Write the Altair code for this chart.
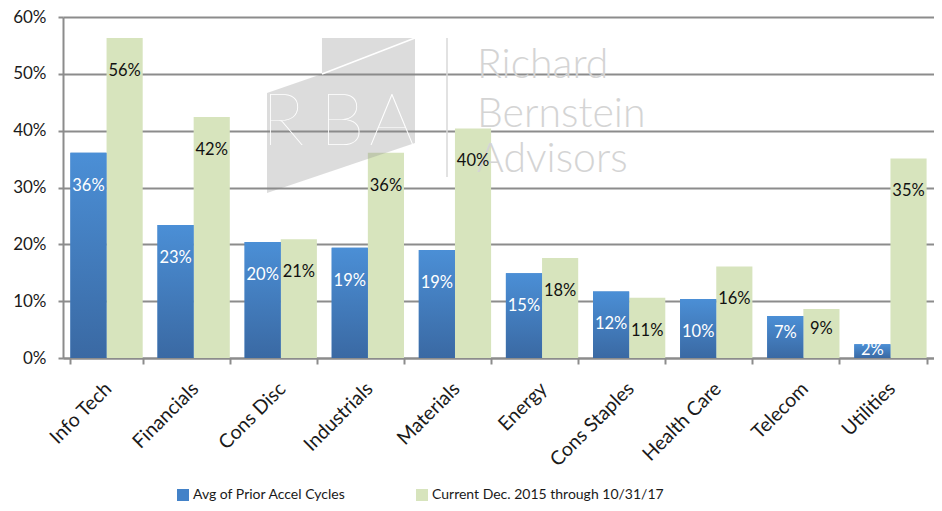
import altair as alt
import pandas as pd

# ---------------- data ----------------
sectors = ["Info Tech", "Financials", "Cons Disc", "Industrials", "Materials",
           "Energy", "Cons Staples", "Health Care", "Telecom", "Utilities"]
series_names = ["Avg of Prior Accel Cycles", "Current Dec. 2015 through 10/31/17"]
avg_prior = [36.1, 23.4, 20.4, 19.4, 19.0, 14.9, 11.7, 10.4, 7.4, 2.4]
current = [56.3, 42.4, 20.9, 36.1, 40.4, 17.6, 10.6, 16.1, 8.6, 35.1]
y_ticks = [0, 10, 20, 30, 40, 50, 60]

rows = []
for i, s in enumerate(sectors):
    rows.append({"sector": s, "series": series_names[0], "value": avg_prior[i]})
    rows.append({"sector": s, "series": series_names[1], "value": current[i]})
df = pd.DataFrame(rows)

# ---------------- style ----------------
FONT = "Lato"
BLUE = "#4382c8"
GREEN = "#d7e4bd"
AXIS_GRAY = "#8c8c8c"
TEXT = "#1a1a1a"

x_axis = alt.Axis(title=None, labelAngle=-45, labelFontSize=19.5, labelFont=FONT,
                  labelColor=TEXT, domainColor=AXIS_GRAY, domainWidth=2,
                  tickColor=AXIS_GRAY, tickWidth=2, tickSize=6, tickBand="extent",
                  labelPadding=15, labelOffset=-5, grid=False)
x_enc = alt.X("sector:N", sort=sectors,
              scale=alt.Scale(paddingInner=0.17, paddingOuter=0.085), axis=x_axis)
xo_enc = alt.XOffset("series:N", sort=series_names,
                     scale=alt.Scale(domain=series_names))
y_scale = alt.Scale(domain=[0, 60], nice=False)
y_axis = alt.Axis(title=None, values=y_ticks, labelExpr="datum.value + '%'",
                  labelFontSize=17, labelFont=FONT, labelColor=TEXT,
                  domainColor=AXIS_GRAY, domainWidth=2, tickColor=AXIS_GRAY,
                  tickWidth=2, tickSize=5, labelPadding=12,
                  gridColor=AXIS_GRAY, gridWidth=2)

bars = alt.Chart(df).mark_bar().encode(
    x=x_enc, xOffset=xo_enc,
    y=alt.Y("value:Q", scale=y_scale, axis=y_axis),
    color=alt.Color("series:N", sort=series_names,
                    scale=alt.Scale(domain=series_names, range=[BLUE, GREEN]),
                    legend=alt.Legend(title=None, orient="none", legendX=113, legendY=471,
                                      direction="horizontal", columns=2, columnPadding=69,
                                      symbolType="square", symbolSize=144,
                                      symbolStrokeWidth=0, labelFont=FONT,
                                      labelFontSize=14, labelColor=TEXT, labelOffset=3,
                                      padding=0, labelLimit=0)),
)

blue_grad = alt.Chart(df).transform_filter(
    alt.datum.series == series_names[0]
).mark_bar(
    fill=alt.LinearGradient(gradient="linear", x1=0, x2=0, y1=0, y2=1,
                            stops=[alt.GradientStop(color="#4b8fd6", offset=0),
                                   alt.GradientStop(color="#3a69a3", offset=1)])
).encode(x=x_enc, xOffset=xo_enc, y=alt.Y("value:Q", scale=y_scale, axis=y_axis))

labels = alt.Chart(df).transform_calculate(
    label_y="datum.value >= 10 ? datum.value - 5.8 : datum.value * 0.6",
    label="round(datum.value) + '%'",
).mark_text(font=FONT, fontSize=16.5, baseline="middle", align="center").encode(
    x=x_enc, xOffset=xo_enc,
    y=alt.Y("label_y:Q", scale=y_scale, axis=y_axis),
    text="label:N",
    color=alt.condition(alt.datum.series == series_names[0],
                        alt.value("white"), alt.value("#111111")),
)

# ---------------- watermark (decoration) ----------------
one = alt.Data(values=[{"k": 1}])
shape_path = "M-0.257,-1.047L1,-1.047L1,0.372L-1,1.047L-1,-0.304L-0.257,-0.561Z"
wm_shape = alt.Chart(one).mark_point(
    shape=shape_path, size=21904, filled=True, fill="#8a8c8c", opacity=0.3,
    strokeWidth=0
).encode(x=alt.value(278), y=alt.value(98.5))
wm_line = alt.Chart(one).mark_rule(color="white", strokeWidth=1.5).encode(
    x=alt.value(259), y=alt.value(57), x2=alt.value(352), y2=alt.value(21))
wm_letters = []
for letter, px in zip(["R", "B", "A"], [220, 279, 329]):
    wm_letters.append(
        alt.Chart(one).mark_text(text=letter, font=FONT, fontSize=72, fontWeight=200,
                                 color="white", align="center",
                                 baseline="alphabetic").encode(
            x=alt.value(px), y=alt.value(128)))
wm_div = alt.Chart(one).mark_rule(color="#d9d9d9", strokeWidth=1.5).encode(
    x=alt.value(384), y=alt.value(21), y2=alt.value(160))
wm_words = []
for word, py in zip(["Richard", "Bernstein", "Advisors"], [61, 110, 155]):
    wm_words.append(
        alt.Chart(one).mark_text(text=word, font=FONT, fontSize=41, fontWeight=300,
                                 color="#d4d4d4", align="left",
                                 baseline="alphabetic").encode(
            x=alt.value(414), y=alt.value(py)))

chart = alt.layer(
    bars, blue_grad, wm_shape, wm_line, *wm_letters, wm_div, *wm_words, labels
).properties(
    width=871, height=341,
    autosize=alt.AutoSizeParams(type="none"),
    padding={"left": 55, "top": 9, "right": 0, "bottom": 146},
    background="white",
).configure_view(stroke=None)

chart.save("out.html", embed_options={"renderer": "svg", "actions": False})
